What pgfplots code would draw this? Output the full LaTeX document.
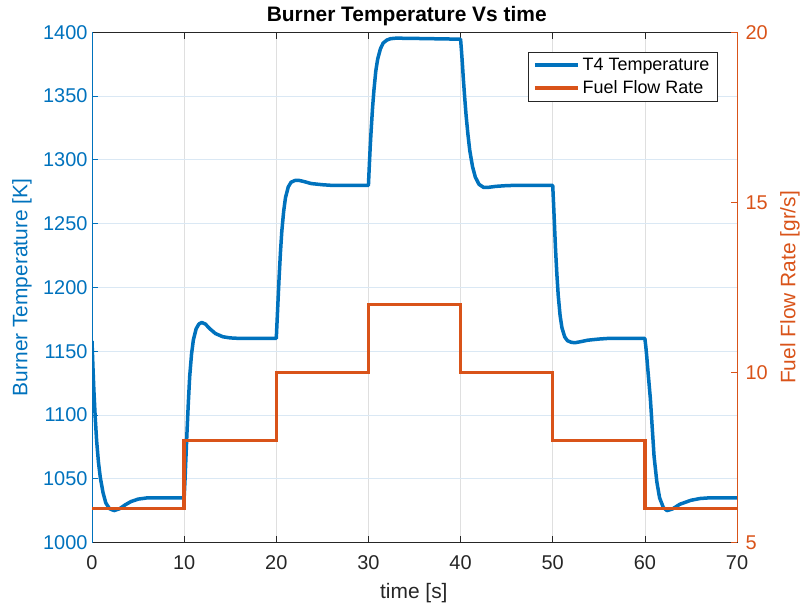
\documentclass[border=0pt]{standalone}
\usepackage{pgfplots}
\pgfplotsset{compat=1.18}
\usepackage{fontspec}
\setmainfont{Liberation Sans}

\definecolor{mblue}{RGB}{0,114,189}
\definecolor{morange}{RGB}{217,83,25}
\definecolor{axgray}{RGB}{38,38,38}
\definecolor{gridx}{RGB}{223,223,223}
\definecolor{gridy}{RGB}{218,232,244}

\newcommand{\tickfont}{\fontsize{20}{22}\selectfont}
\newcommand{\labfont}{\fontsize{21}{23}\selectfont}

\pgfplotsset{
  common/.style={
    at={(92bp,69.5bp)}, anchor=south west,
    width=645bp, height=510.2bp, scale only axis,
    xmin=0, xmax=70,
    xtick={0,10,...,70},
    tick align=inside,
    major tick length=6.5bp,
    /pgf/number format/assume math mode=true,
    /pgf/number format/1000 sep={},
    tick label style={font=\tickfont},
  }
}

\begin{document}
\begin{tikzpicture}
\useasboundingbox (0,0) rectangle (803bp,612bp);

% left axis: burner temperature
\begin{axis}[common,
  ymin=1000, ymax=1400,
  ytick={1000,1050,...,1400},
  axis x line=box,
  axis y line*=left,
  xtick pos=both,
  x axis line style={draw=axgray, line width=0.7bp},
  y axis line style={draw=mblue, line width=0.7bp},
  x tick style={draw=axgray, line width=0.7bp},
  y tick style={draw=mblue, line width=0.7bp},
  xticklabel style={text=axgray, yshift=-10bp},
  yticklabel style={text=mblue, xshift=-1bp},
  xmajorgrids, ymajorgrids,
  x grid style={draw=gridx, line width=0.7bp},
  y grid style={draw=gridy, line width=0.7bp},
  title={\bfseries Burner Temperature Vs time},
  title style={font=\labfont, text=black, at={(axis description cs:0.488,1.021)}, anchor=center},
  xlabel={time [s]},
  every axis x label/.style={at={(axis description cs:0.499,-0.099)}, anchor=center, text=axgray, font=\labfont},
  ylabel={Burner Temperature [K]},
  every axis y label/.style={at={(axis description cs:-0.1085,0.5)}, rotate=90, anchor=center, text=mblue, font=\labfont},
]
\addplot[mblue, line width=3.5bp, line join=round] coordinates {
(0,1158) (0.1,1138) (0.2,1120) (0.35,1098) (0.5,1080) (0.7,1063) (0.9,1051)
(1.2,1039) (1.5,1031) (1.9,1026.5) (2.4,1025) (3.0,1026.5) (3.6,1029.5)
(4.2,1032) (5.0,1034) (6.0,1035) (10,1035)
(10.1,1050) (10.2,1067.5) (10.3,1085) (10.45,1108.8) (10.6,1130) (10.8,1147.5)
(11.0,1158.8) (11.3,1167.5) (11.6,1171.3) (11.9,1172.5) (12.3,1171.3)
(12.8,1167.5) (13.4,1163.8) (14.2,1161.3) (15.0,1160.4) (16,1160) (20,1160)
(20.1,1175.6) (20.2,1191.2) (20.3,1206.8) (20.45,1227.2) (20.6,1244) (20.8,1259.6)
(21.0,1270.4) (21.3,1278.8) (21.6,1282.4) (22.0,1283.8) (22.4,1284) (23.0,1283)
(23.8,1281.4) (25,1280.5) (26,1280) (30,1280)
(30.1,1296.1) (30.2,1311.1) (30.3,1323.7) (30.45,1341) (30.6,1354.8) (30.8,1369.7)
(31.0,1378.9) (31.3,1387) (31.6,1391.6) (32.0,1393.9) (32.4,1395) (33.0,1395.4)
(35,1395.2) (40,1394.6)
(40.1,1385.4) (40.2,1375) (40.3,1363.6) (40.45,1348.6) (40.6,1334.8) (40.8,1319.9)
(41.0,1307.2) (41.3,1294.6) (41.6,1286.5) (42.0,1280.8) (42.5,1278.4) (43.0,1278.4)
(43.8,1279.2) (45,1279.8) (46,1280) (50,1280)
(50.1,1264.4) (50.2,1247.6) (50.3,1230.8) (50.45,1210.4) (50.6,1193.6) (50.8,1178)
(51.0,1168.4) (51.3,1161.2) (51.6,1158.2) (52.0,1157) (52.4,1156.6) (53.0,1157.4)
(53.8,1158.6) (55,1159.5) (56,1160) (60,1160)
(60.1,1153.8) (60.2,1146.3) (60.3,1137.5) (60.45,1125) (60.6,1112.5) (60.8,1090)
(61.0,1067.5) (61.3,1047.5) (61.6,1035) (62.0,1027.5) (62.4,1025) (63.0,1026.3)
(63.8,1030) (65,1033.1) (66,1034.5) (67,1035) (70,1035)
};
\end{axis}

% right axis: fuel flow rate
\begin{axis}[common,
  ymin=5, ymax=20,
  ytick={5,10,15,20},
  axis x line=none,
  axis y line*=right,
  y axis line style={draw=morange, line width=0.7bp},
  y tick style={draw=morange, line width=0.7bp},
  yticklabel style={text=morange, xshift=5bp},
  ylabel={Fuel Flow Rate [gr/s]},
  every axis y label/.style={at={(axis description cs:1.082,0.5)}, rotate=90, anchor=center, text=morange, font=\labfont},
  legend style={at={(axis description cs:0.970,0.962)}, anchor=north east,
    draw=axgray, line width=0.7bp, fill=white,
    font=\fontsize{18}{20}\selectfont, text=black,
    inner xsep=5bp, inner ysep=5bp, row sep=7bp,
    nodes={inner xsep=3bp, inner ysep=1bp}},
  legend cell align=left,
  legend image code/.code={\draw[#1] (0bp,0bp) -- (43bp,0bp);},
]
\addlegendimage{mblue, line width=3.5bp}
\addlegendentry{T4 Temperature}
\addplot[morange, line width=3.5bp, const plot, line join=miter] coordinates {
(0,6) (10,8) (20,10) (30,12) (40,10) (50,8) (60,6) (70,6)
};
\addlegendentry{Fuel Flow Rate}
\end{axis}
\end{tikzpicture}
\end{document}
